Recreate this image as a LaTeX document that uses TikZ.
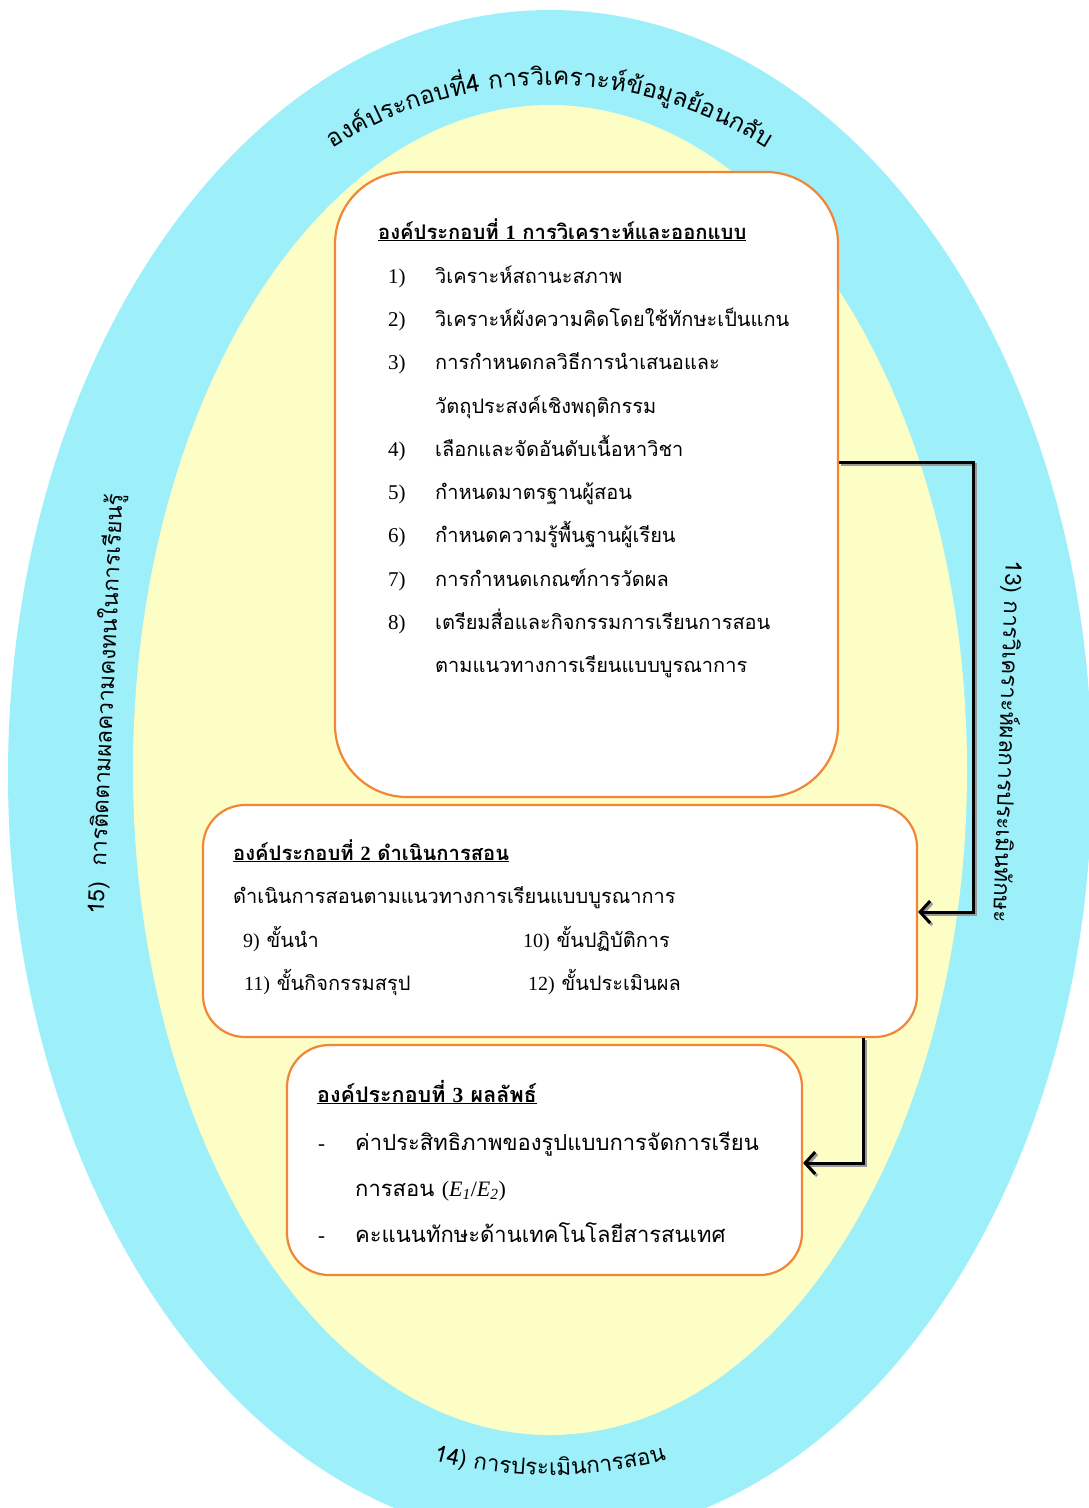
\documentclass[tikz,border=0pt]{standalone}
\usepackage{fontspec}
\setmainfont{Liberation Serif}
\newfontfamily\thaifont[Script=Thai]{Loma}
\newfontfamily\lat{Liberation Serif}
\usetikzlibrary{decorations.text,arrows.meta,calc}
\definecolor{ringcyan}{RGB}{157,240,250}
\definecolor{innery}{RGB}{253,253,198}
\definecolor{boxorange}{RGB}{240,134,56}
\newcommand\ringfont{\thaifont\fontsize{24.5}{28}\selectfont}
\newcommand\ringfontb{\thaifont\fontsize{22.5}{26}\selectfont}
\begin{document}
\begin{tikzpicture}[x=1pt,y=-1pt,
  box/.style={draw=boxorange, line width=2.2pt, fill=white, inner sep=0pt},
  itemtxt/.style={anchor=base west, inner sep=0pt, font=\thaifont\fontsize{20}{23}\selectfont},
  headtxt/.style={anchor=base west, inner sep=0pt, font=\thaifont\bfseries\fontsize{20.2}{23}\selectfont},
  numtxt/.style={anchor=base west, inner sep=0pt, font=\lat\fontsize{21}{23}\selectfont},
  bigtxt/.style={anchor=base west, inner sep=0pt, font=\thaifont\fontsize{22}{25}\selectfont},
  bighead/.style={anchor=base west, inner sep=0pt, font=\thaifont\bfseries\fontsize{21.5}{25}\selectfont},
  flow/.style={line width=3pt, -{Straight Barb[length=10pt,width=22pt,line width=3pt]},
    preaction={draw=black!40, line width=3pt, transform canvas={shift={(2pt,-2pt)}}}},
  ringtxt/.style={inner sep=0pt, font=\ringfontb}
]
\useasboundingbox (0,0) rectangle (1089,1508);
% rings
\fill[ringcyan] (550,775) ellipse [x radius=542, y radius=765];
\fill[innery] (550,770) ellipse [x radius=417, y radius=665];

% ring texts
\path[decorate, decoration={text along path, text align=center,
  text={|\ringfont|{อ}{ง}{ค์}{ป}{ร}{ะ}{ก}{อ}{บ}{ที่}{4}{ }{ก}{า}{ร}{วิ}{เ}{ค}{ร}{า}{ะ}{ห์}{ข้}{อ}{มู}{ล}{ย้}{อ}{น}{ก}{ลั}{บ}}}]
  plot[domain=128:52, samples=60, smooth] ({550+404*cos(\x)}, {489-404*sin(\x)});
\path[decorate, decoration={text along path, text align=center,
  text={|\ringfontb|{1}{4}{)}{ }{ก}{า}{ร}{ป}{ร}{ะ}{เ}{มิ}{น}{ก}{า}{ร}{ส}{อ}{น}}}]
  plot[domain=110:70, samples=40, smooth] ({550+465*cos(\x)}, {1010+465*sin(\x)});
\node[ringtxt, rotate=87.4] (t15) at (106,704) {15)\ \ การติดตามผลความคงทนในการเรียนรู้};
\node[ringtxt, rotate=-92] (t13) at (1007,742) {13) การวิเคราะห์ผลการประเมินทักษะ};

% boxes
\node[box, rounded corners=72pt, minimum width=503pt, minimum height=625pt] (b1) at (586.5,484.5) {};
\node[box, rounded corners=42pt, minimum width=714pt, minimum height=232pt] (b2) at (560,921) {};
\node[box, rounded corners=42pt, minimum width=515pt, minimum height=230pt] (b3) at (544.5,1160) {};

% box 1 text
\node[headtxt] (h1) at (378,239) {\underline{องค์ประกอบที่ {\lat 1} การวิเคราะห์และออกแบบ}};
\node[numtxt] (n1) at (388,283) {1)};
\node[itemtxt] (i1) at (435,283) {วิเคราะห์สถานะสภาพ};
\node[numtxt] (n2) at (388,326) {2)};
\node[itemtxt] (i2) at (435,326) {วิเคราะห์ผังความคิดโดยใช้ทักษะเป็นแกน};
\node[numtxt] (n3) at (388,369) {3)};
\node[itemtxt] (i3) at (435,369) {การกำหนดกลวิธีการนำเสนอและ};
\node[itemtxt] (i3b) at (435,413) {วัตถุประสงค์เชิงพฤติกรรม};
\node[numtxt] (n4) at (388,456) {4)};
\node[itemtxt] (i4) at (435,456) {เลือกและจัดอันดับเนื้อหาวิชา};
\node[numtxt] (n5) at (388,499) {5)};
\node[itemtxt] (i5) at (435,499) {กำหนดมาตรฐานผู้สอน};
\node[numtxt] (n6) at (388,542) {6)};
\node[itemtxt] (i6) at (435,542) {กำหนดความรู้พื้นฐานผู้เรียน};
\node[numtxt] (n7) at (388,586) {7)};
\node[itemtxt] (i7) at (435,586) {การกำหนดเกณฑ์การวัดผล};
\node[numtxt] (n8) at (388,629) {8)};
\node[itemtxt] (i8) at (435,629) {เตรียมสื่อและกิจกรรมการเรียนการสอน};
\node[itemtxt] (i8b) at (435,672) {ตามแนวทางการเรียนแบบบูรณาการ};

% box 2 text
\node[headtxt] (h2) at (233,860) {\underline{องค์ประกอบที่ {\lat 2} ดำเนินการสอน}};
\node[itemtxt] (s0) at (233,903) {ดำเนินการสอนตามแนวทางการเรียนแบบบูรณาการ};
\node[itemtxt] (s9) at (243,947) {{\lat 9)} ขั้นนำ};
\node[itemtxt] (s10) at (523,947) {{\lat 10)} ขั้นปฏิบัติการ};
\node[itemtxt] (s11) at (244,990) {{\lat 11)} ขั้นกิจกรรมสรุป};
\node[itemtxt] (s12) at (528,990) {{\lat 12)} ขั้นประเมินผล};

% box 3 text
\node[bighead] (h3) at (317,1102) {\underline{องค์ประกอบที่ {\lat 3} ผลลัพธ์}};
\node[numtxt] (d1) at (318,1150) {-};
\node[bigtxt] (r1) at (355,1150) {ค่าประสิทธิภาพของรูปแบบการจัดการเรียน};
\node[bigtxt] (r1b) at (355,1196) {การสอน {\lat (\textit{E}\textsubscript{\textit{1}}/\textit{E}\textsubscript{\textit{2}})}};
\node[numtxt] (d2) at (318,1242) {-};
\node[bigtxt] (r2) at (355,1242) {คะแนนทักษะด้านเทคโนโลยีสารสนเทศ};

% connectors
\coordinate (a1s) at ($(b1.east)+(0,-22.5)$);
\coordinate (a1e) at ($(b2.east)+(0,-9)$);
\coordinate (a2s) at ($(b2.south)+(303,0)$);
\coordinate (a2e) at ($(b3.east)+(0,3)$);
\draw[flow] (a1s) -- ++(134,0) |- (a1e);
\draw[flow] (a2s) |- (a2e);
\end{tikzpicture}
\end{document}
